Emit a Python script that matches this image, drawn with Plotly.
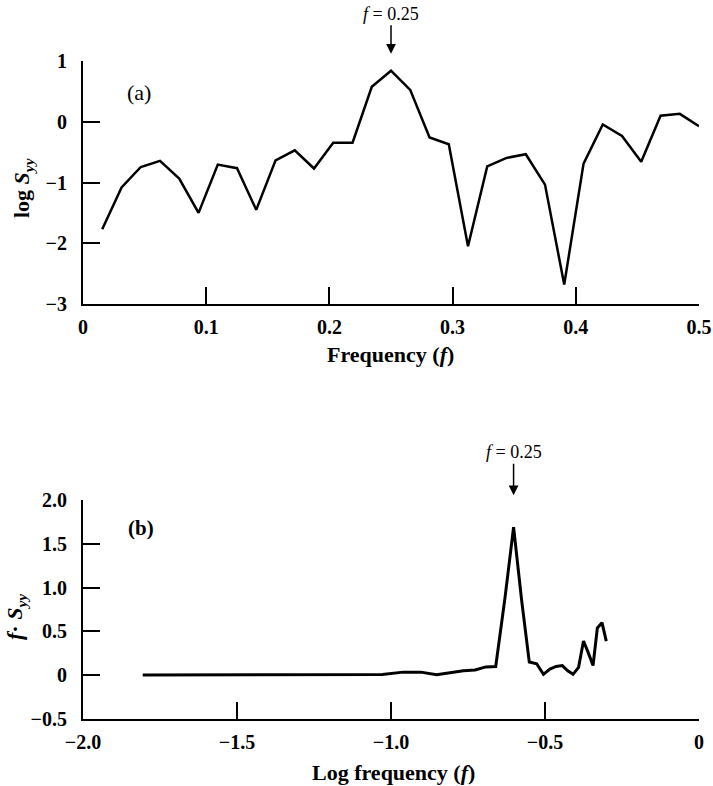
import plotly.graph_objects as go

# ---- data ----
freq = [0.0156, 0.0313, 0.0469, 0.0625, 0.0781, 0.0938, 0.1094, 0.1250,
        0.1406, 0.1563, 0.1719, 0.1875, 0.2031, 0.2188, 0.2344, 0.2500,
        0.2656, 0.2813, 0.2969, 0.3125, 0.3281, 0.3438, 0.3594, 0.3750,
        0.3906, 0.4063, 0.4219, 0.4375, 0.4531, 0.4688, 0.4844, 0.5000]
log_syy = [-1.77, -1.08, -0.745, -0.645, -0.935, -1.50, -0.705, -0.765,
           -1.45, -0.635, -0.47, -0.77, -0.345, -0.345, 0.575, 0.84,
           0.525, -0.26, -0.37, -2.05, -0.735, -0.595, -0.535, -1.035,
           -2.68, -0.69, -0.045, -0.235, -0.66, 0.10, 0.13, -0.075]

log_freq = [-1.806, -1.505, -1.329, -1.204, -1.107, -1.028, -0.961, -0.903,
            -0.852, -0.806, -0.765, -0.727, -0.692, -0.660, -0.630, -0.602,
            -0.576, -0.551, -0.527, -0.505, -0.484, -0.464, -0.444, -0.426,
            -0.409, -0.391, -0.375, -0.360, -0.344, -0.330, -0.315, -0.301]
f_syy = [0.002, 0.004, 0.008, 0.012, 0.009, 0.008, 0.035, 0.035,
         0.006, 0.030, 0.050, 0.060, 0.095, 0.100, 0.88, 1.69,
         0.86, 0.15, 0.13, 0.01, 0.07, 0.10, 0.11, 0.05,
         0.01, 0.09, 0.39, 0.26, 0.11, 0.54, 0.60, 0.39]

top_xticks = [0, 0.1, 0.2, 0.3, 0.4, 0.5]
top_xtext = ["0", "0.1", "0.2", "0.3", "0.4", "0.5"]
top_yticks = [1, 0, -1, -2, -3]
top_ytext = ["1", "0", "\u22121", "\u22122", "\u22123"]
bot_xticks = [-2.0, -1.5, -1.0, -0.5, 0]
bot_xtext = ["\u22122.0", "\u22121.5", "\u22121.0", "\u22120.5", "0"]
bot_yticks = [2.0, 1.5, 1.0, 0.5, 0, -0.5]
bot_ytext = ["2.0", "1.5", "1.0", "0.5", "0", "\u22120.5"]

W, H = 713, 786
SERIF = "Liberation Serif, Times New Roman, serif"

fig = go.Figure()
fig.add_trace(go.Scatter(x=freq, y=log_syy, mode="lines",
                         line=dict(color="black", width=2.5),
                         xaxis="x", yaxis="y", showlegend=False, hoverinfo="skip"))
fig.add_trace(go.Scatter(x=log_freq, y=f_syy, mode="lines",
                         line=dict(color="black", width=3),
                         xaxis="x2", yaxis="y2", showlegend=False, hoverinfo="skip"))


def axis(**kw):
    base = dict(showline=True, linecolor="black", linewidth=2,
                ticks="inside", ticklen=17, tickwidth=1.5, tickcolor="black",
                showgrid=False, zeroline=False, automargin=False, fixedrange=True,
                tickmode="array",
                tickfont=dict(family=SERIF, size=20, color="black", weight="bold"))
    base.update(kw)
    return base


xdom = [83 / W, 699 / W]
top_dom = [(H - 304) / H, (H - 61) / H]
bot_dom = [(H - 719) / H, (H - 500) / H]

fig.update_layout(
    width=W, height=H,
    margin=dict(l=0, r=0, t=0, b=0),
    paper_bgcolor="white", plot_bgcolor="white",
    xaxis=axis(domain=xdom, range=[0, 0.5], anchor="y",
               tickvals=top_xticks, ticktext=top_xtext, ticklabelstandoff=4),
    yaxis=axis(domain=top_dom, range=[-3, 1], anchor="x",
               tickvals=top_yticks, ticktext=top_ytext, ticklabelstandoff=10),
    xaxis2=axis(domain=xdom, range=[-2, 0], anchor="y2",
                tickvals=bot_xticks, ticktext=bot_xtext, ticklabelstandoff=4),
    yaxis2=axis(domain=bot_dom, range=[-0.5, 2.0], anchor="x2",
                tickvals=bot_yticks, ticktext=bot_ytext, ticklabelstandoff=10),
)

# peak positions from data
i_top = log_syy.index(max(log_syy))
i_bot = f_syy.index(max(f_syy))

ann = []
bold = dict(family=SERIF, size=22, color="black")
reg = dict(family=SERIF, size=18, color="black")

# axis titles
ann.append(dict(text="<b>Frequency (<i>f</i>)</b>", xref="paper", yref="paper",
                x=391 / W, y=(H - 355) / H, showarrow=False, font=bold,
                xanchor="center", yanchor="middle"))
ann.append(dict(text="<b>Log frequency (<i>f</i>)</b>", xref="paper", yref="paper",
                x=393 / W, y=(H - 772) / H, showarrow=False, font=bold,
                xanchor="center", yanchor="middle"))
ann.append(dict(text="<b>log <i>S</i><sub><i>yy</i></sub></b>", xref="paper", yref="paper",
                x=23 / W, y=(H - 188) / H, showarrow=False, font=bold, textangle=-90,
                xanchor="center", yanchor="middle"))
ann.append(dict(text="<b><i>f</i>· <i>S</i><sub><i>yy</i></sub></b>", xref="paper", yref="paper",
                x=16 / W, y=(H - 617) / H, showarrow=False, font=bold, textangle=-90,
                xanchor="center", yanchor="middle"))

# panel labels
ann.append(dict(text="(a)", xref="paper", yref="paper", x=139 / W, y=(H - 92) / H,
                showarrow=False, font=dict(family=SERIF, size=22, color="black"),
                xanchor="center", yanchor="middle"))
ann.append(dict(text="<b>(b)</b>", xref="paper", yref="paper", x=141 / W, y=(H - 528) / H,
                showarrow=False, font=dict(family=SERIF, size=21, color="black"),
                xanchor="center", yanchor="middle"))

# f = 0.25 markers (text with a downward arrow to the peak)
ann.append(dict(text="<i>f</i> = 0.25", x=freq[i_top], y=log_syy[i_top], xref="x", yref="y",
                showarrow=True, ax=0, ay=-57, standoff=17, arrowhead=2,
                arrowsize=1.3, arrowwidth=1.5, arrowcolor="black", font=reg))
ann.append(dict(text="<i>f</i> = 0.25", x=log_freq[i_bot], y=f_syy[i_bot], xref="x2", yref="y2",
                showarrow=True, ax=0, ay=-75, standoff=32, arrowhead=2,
                arrowsize=1.3, arrowwidth=1.5, arrowcolor="black", font=reg))

fig.update_layout(annotations=ann)
fig.write_html("out.html")
